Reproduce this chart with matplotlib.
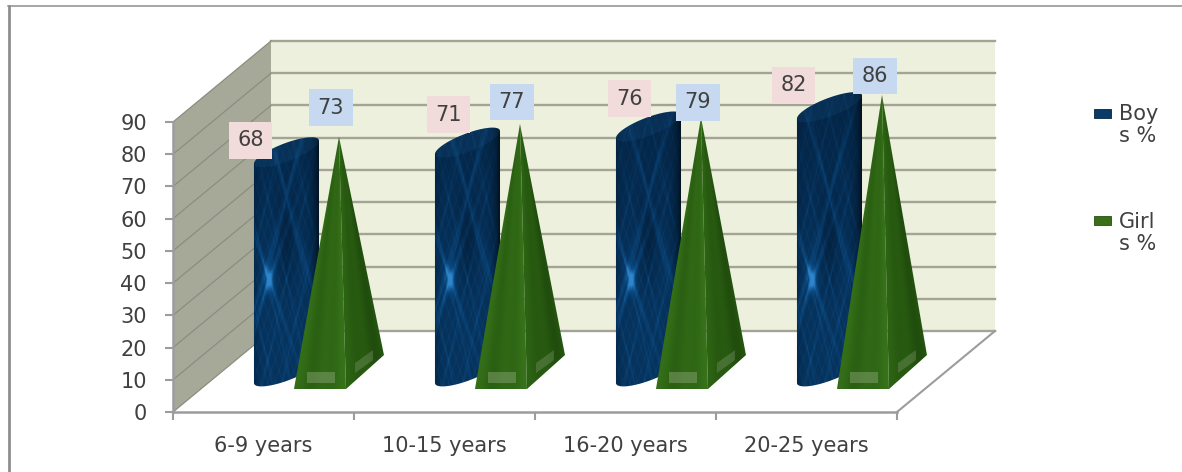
import numpy as np
import matplotlib
matplotlib.use('Agg')
import matplotlib.pyplot as plt
from matplotlib.colors import LinearSegmentedColormap
from matplotlib.lines import Line2D
from matplotlib.patches import Polygon, Rectangle, PathPatch
from matplotlib.path import Path

categories = ['6-9 years', '10-15 years', '16-20 years', '20-25 years']
boys = [68, 71, 76, 82]
girls = [73, 77, 79, 86]
value_ticks = [0, 10, 20, 30, 40, 50, 60, 70, 80, 90]

# label offsets in pixels from the top of each mark
boy_offsets = [(-36, 12), (-19, 28), (-19, 28), (-36, 22)]
girl_offsets = [(-8, 29), (-8, 22), (-3, 15), (-7, 19)]

W, H = 1182, 472
LEFT, RIGHT, BOTTOM, TOP = 173, 897, 412, 122
PX_X = (RIGHT - LEFT) / 4
PX_Y = (BOTTOM - TOP) / 90

# oblique depth of the box, in data units
DEPTH_X = 98 / PX_X
DEPTH_Y = 81 / PX_Y

TEXT = '#404040'
GRID = '#A3A396'
AXIS = '#9C9C9C'
WALL = '#ECF0DC'
SIDE = '#A6A898'
PINK = '#F2DCDB'
BLUE = '#C6D9F1'

plt.rcParams['font.family'] = ['DejaVu Sans']

blues = LinearSegmentedColormap.from_list('boy', ['#02111F', '#052A4E', '#0B4C85', '#2F86CC'])
greens = LinearSegmentedColormap.from_list('girl', ['#173A08', '#2A5F12', '#38741A', '#4E8E28'])


def boy_texture():
    # net of bright threads on navy, with a star low on the left
    u, w = np.meshgrid(np.linspace(-1, 1, 130), np.linspace(-1, 1, 560))
    h = (w * 55 + 55 - 41) / 41
    d1 = np.sin(2 * np.pi * (0.9 * u + 0.8 * h))
    d2 = np.sin(2 * np.pi * (0.9 * u - 0.8 * h))
    net = np.exp(-(d1 / 0.14) ** 2) + np.exp(-(d2 / 0.14) ** 2)
    f1 = np.sin(2 * np.pi * (2.3 * u + 2.9 * h))
    f2 = np.sin(2 * np.pi * (2.3 * u - 2.9 * h))
    fine = np.exp(-(f1 / 0.2) ** 2) + np.exp(-(f2 / 0.2) ** 2)
    # dark cross high up, threads along its arms
    cross = np.abs(np.abs(u) - 1.1 * np.abs(h - 0.63))
    arms = np.exp(-(cross / 0.06) ** 2)
    hollow = np.exp(-((u / 0.3) ** 2 + ((h - 0.3) / 0.35) ** 2))
    star = np.exp(-(((u + 0.5) / 0.13) ** 2 + (h / 0.09) ** 2))
    rays = np.exp(-(np.abs(np.abs(u + 0.5) - 1.3 * np.abs(h)) / 0.05) ** 2) * np.exp(-np.abs(h) / 0.4)
    grain = 0.05 * np.sin(47 * np.pi * u) * np.sin(83 * np.pi * w)
    shade = np.clip(1 - ((u + 0.1) / 1.05) ** 6, 0, 1) * np.exp(-np.clip(h - 0.1, 0, None) * 0.35)
    tex = (0.42 + 0.12 * net + 0.1 * fine + 0.16 * arms - 0.16 * hollow + grain) * shade
    tex += 0.4 * star + 0.28 * rays
    return np.clip(tex, 0, 1)


def girl_texture():
    # long soft streaks running up the face with a fine grain
    u, w = np.meshgrid(np.linspace(-1, 1, 200), np.linspace(0, 1, 500))
    s = u / np.maximum(1.1 - w, 0.1)
    tex = 0.5 + 0.1 * np.sin(7 * s + 0.8) + 0.05 * np.sin(19 * s)
    tex += 0.07 * np.sin(170 * u + 40 * w) * np.sin(310 * w)
    return np.clip(tex, 0, 1)


fig = plt.figure(figsize=(W / 100, H / 100), dpi=100)
ax = fig.add_axes([LEFT / W, (H - BOTTOM) / H, (RIGHT - LEFT) / W, (BOTTOM - TOP) / H])
ax.set_xlim(0, 4)
ax.set_ylim(0, 90)
ax.patch.set_visible(False)

# walls and floor
ax.add_patch(Rectangle((DEPTH_X, DEPTH_Y), 4, 90, fc=WALL, ec='none', clip_on=False, zorder=0.5))
ax.add_patch(Polygon([(0, 0), (DEPTH_X, DEPTH_Y), (DEPTH_X, DEPTH_Y + 90), (0, 90)],
                     fc=SIDE, ec='none', clip_on=False, zorder=0.6))
for v in value_ticks:
    ax.plot([DEPTH_X, DEPTH_X + 4], [DEPTH_Y + v, DEPTH_Y + v], color=GRID, lw=1.7,
            clip_on=False, zorder=0.7)
    ax.plot([0, DEPTH_X], [v, DEPTH_Y + v], color='#8B8D7F', lw=0.9, clip_on=False, zorder=0.7)
ax.plot([4, 4 + DEPTH_X], [0, DEPTH_Y], color=AXIS, lw=1.5, clip_on=False, zorder=0.7)

for side in ['top', 'right']:
    ax.spines[side].set_visible(False)
for side in ['left', 'bottom']:
    ax.spines[side].set_color(AXIS)
    ax.spines[side].set_linewidth(1.8)

ax.set_yticks(value_ticks)
ax.set_xticks([0.5, 1.5, 2.5, 3.5])
ax.set_xticklabels(categories)
ax.set_xticks(range(5), minor=True)
ax.tick_params(axis='y', length=5.8, width=1.5, color=AXIS, pad=13, labelsize=15, labelcolor=TEXT)
ax.tick_params(axis='x', which='major', length=0, pad=17, labelsize=15, labelcolor=TEXT)
ax.tick_params(axis='x', which='minor', length=5.5, width=1.5, color=AXIS)

boy_tex = boy_texture()
girl_tex = girl_texture()

# cylinder: half width and tilted half depth of the end ellipse
CYL_A = 20.8 / PX_X
CYL_BX, CYL_BY = 25 / PX_X, 15 / PX_Y
CYL_X, CYL_BASE = 0.627, 12.6
# pyramid: half width and half depth of the base
PYR_X, PYR_BASE = 0.917, 12.4
PYR_A = 26 / PX_X
PYR_BX, PYR_BY = 19 / PX_X, 17 / PX_Y


def textured(poly, tex, cmap, extent, z, vmin=0, vmax=1):
    clip = PathPatch(Path(np.vstack([poly, poly[0]])), transform=ax.transData, fc='none', ec='none')
    im = ax.imshow(tex, extent=extent, origin='lower', aspect='auto', cmap=cmap,
                   vmin=vmin, vmax=vmax, interpolation='bilinear', zorder=z)
    im.set_clip_box(fig.bbox)
    im.set_clip_path(clip)
    return im


for i, (b, g) in enumerate(zip(boys, girls)):
    z = 2 + i
    # boys cylinder
    cx = i + CYL_X
    top = CYL_BASE + b
    t_top = np.linspace(np.arctan2(CYL_BX, CYL_A), np.arctan2(CYL_BX, CYL_A) + np.pi, 60)
    t_low = t_top + np.pi
    top_edge = np.column_stack([cx + CYL_A * np.cos(t_top) + CYL_BX * np.sin(t_top),
                                top + CYL_BY * np.sin(t_top)])
    low_edge = np.column_stack([cx + CYL_A * np.cos(t_low) + CYL_BX * np.sin(t_low),
                                CYL_BASE + CYL_BY * np.sin(t_low)])
    textured(np.vstack([top_edge, low_edge]), boy_tex, blues, [cx - 0.19, cx + 0.19, 0, 110], z)

    # lighter end cap on the cylinder
    t = np.linspace(0, 2 * np.pi, 80)
    ax.add_patch(Polygon(np.column_stack([cx + CYL_A * np.cos(t) + CYL_BX * np.sin(t),
                                          top + CYL_BY * np.sin(t)]),
                         fc='#2F86CC', ec='none', alpha=0.1, clip_on=False, zorder=z + 0.05))

    # girls pyramid, front face then slightly darker side face
    px = i + PYR_X
    apex = (px, PYR_BASE + g)
    fl = (px - PYR_A - PYR_BX, PYR_BASE - PYR_BY)
    fr = (px + PYR_A - PYR_BX, PYR_BASE - PYR_BY)
    br = (px + PYR_A + PYR_BX, PYR_BASE + PYR_BY)
    ext = [px - 0.36, px + 0.36, PYR_BASE - PYR_BY, apex[1]]
    textured(np.array([fl, fr, apex]), girl_tex, greens, ext, z + 0.1)
    textured(np.array([fr, br, apex]), girl_tex, greens, ext, z + 0.2, vmin=0.12, vmax=1.45)

    # pale marks printed near the foot of each face
    ax.add_patch(Rectangle((px - 32 / PX_X, PYR_BASE - 11 / PX_Y), 28 / PX_X, 11 / PX_Y,
                           fc='#B7C4A6', ec='none', alpha=0.32, clip_on=False, zorder=z + 0.3))
    ax.add_patch(Polygon([(px + 16 / PX_X, PYR_BASE - 1 / PX_Y), (px + 34 / PX_X, PYR_BASE + 12 / PX_Y),
                          (px + 34 / PX_X, PYR_BASE + 22 / PX_Y), (px + 16 / PX_X, PYR_BASE + 9 / PX_Y)],
                         fc='#A9B89A', ec='none', alpha=0.25, clip_on=False, zorder=z + 0.3))

    ax.annotate(str(b), (cx, top), xytext=boy_offsets[i], textcoords='offset pixels',
                ha='center', va='center', fontsize=15, color=TEXT, annotation_clip=False, zorder=20,
                bbox=dict(boxstyle='square,pad=0.4', fc=PINK, ec='none'))
    ax.annotate(str(g), apex, xytext=girl_offsets[i], textcoords='offset pixels',
                ha='center', va='center', fontsize=15, color=TEXT, annotation_clip=False, zorder=20,
                bbox=dict(boxstyle='square,pad=0.4', fc=BLUE, ec='none'))

# legend keys and wrapped names
for y, color, edge, first, second in [(113.5, '#0A3A66', '#08243F', 'Boy', 's %'),
                                      (220.5, '#3A6E18', '#24500F', 'Girl', 's %')]:
    fig.add_artist(Rectangle((1094 / W, 1 - (y + 4.5) / H), 17 / W, 9 / H, fc=color, ec=edge,
                             lw=0.6, transform=fig.transFigure))
    fig.text(1119 / W, 1 - (y + 1) / H, first, ha='left', va='center', fontsize=15, color=TEXT)
    fig.text(1119 / W, 1 - (y + 23) / H, second, ha='left', va='center', fontsize=15, color=TEXT)

# frame around the chart, open at the right and bottom
fig.add_artist(Line2D([8.5 / W, 8.5 / W], [0, 1 - 6 / H], color='#8E8E8E', lw=2, transform=fig.transFigure))
fig.add_artist(Line2D([8 / W, 1], [1 - 6 / H, 1 - 6 / H], color='#8E8E8E', lw=1.1, transform=fig.transFigure))

fig.savefig('out.png', dpi=100, facecolor='white')
